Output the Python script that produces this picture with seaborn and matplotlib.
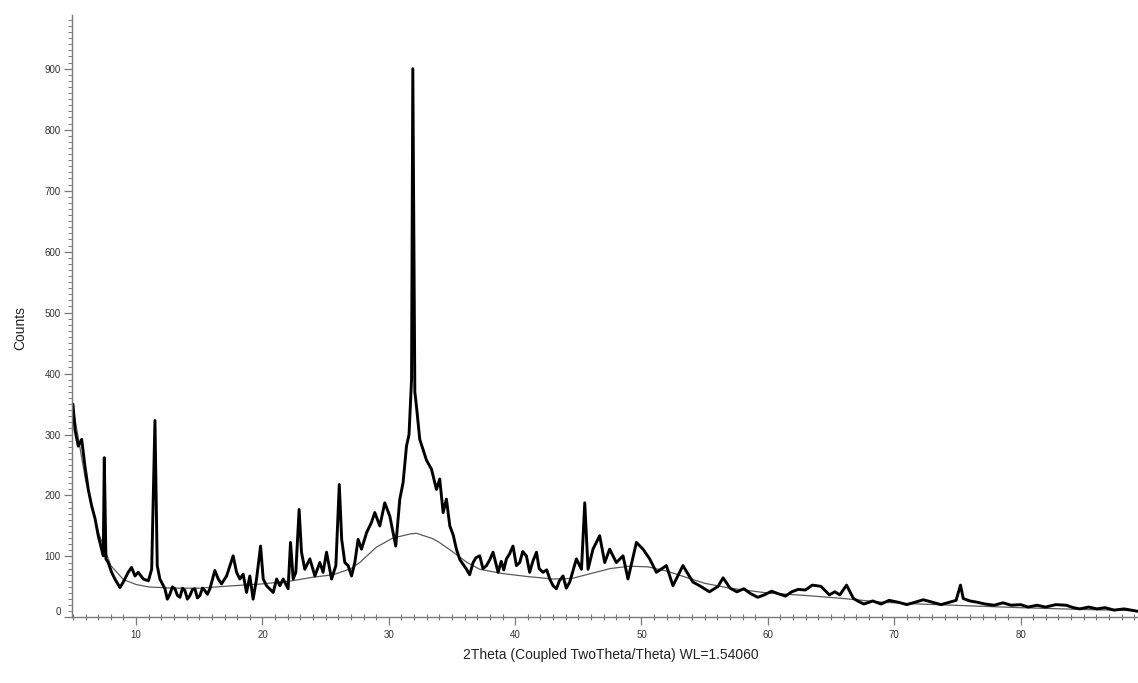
import numpy as np
import pandas as pd
import seaborn as sns
import matplotlib.pyplot as plt
from matplotlib.ticker import MultipleLocator

# XRD pattern (2theta in degrees, counts)
two_theta = [5.0, 5.16, 5.42, 5.69, 5.95, 6.21, 6.48, 6.75, 7.0, 7.27, 7.40, 7.48, 7.61,
             7.79, 8.06, 8.32, 8.72, 8.98, 9.37, 9.64, 9.91, 10.17, 10.57, 10.97, 11.23,
             11.49, 11.67, 11.88, 12.28, 12.47, 12.67, 12.87, 13.07, 13.27, 13.47, 13.67,
             13.86, 14.06, 14.26, 14.46, 14.65, 14.85, 15.05, 15.25, 15.44, 15.64, 15.84,
             16.23, 16.5, 16.76, 17.16, 17.68, 17.95, 18.21, 18.47, 18.74,
             19.0, 19.26, 19.53, 19.85, 20.06, 20.32, 20.85, 21.12, 21.38, 21.64, 22.03,
             22.22, 22.43, 22.64, 22.9, 23.09, 23.35, 23.75, 24.15, 24.54, 24.8, 25.07,
             25.47, 25.81, 26.08, 26.27, 26.52, 26.78, 27.05, 27.31, 27.57, 27.84, 28.24,
             28.63, 28.89, 29.29, 29.68, 30.08, 30.55, 30.87, 31.13, 31.4, 31.6, 31.8,
             31.9, 32.06, 32.19, 32.45, 32.98, 33.38, 33.77, 34.03, 34.3, 34.56, 34.83,
             35.1, 35.35, 35.62, 36.15, 36.4, 36.67, 36.9, 37.2, 37.45, 37.73, 38.0,
             38.25, 38.65, 38.9, 39.1, 39.31, 39.55, 39.83, 40.1, 40.36, 40.6, 40.89,
             41.15, 41.4, 41.69, 41.9, 42.21, 42.5, 42.74, 43.0, 43.27, 43.5, 43.79,
             44.05, 44.32, 44.85, 45.25,
             45.51, 45.77, 46.16, 46.69, 47.09, 47.48, 48.01, 48.54, 48.93, 49.6, 50.12,
             50.65, 51.18, 51.97, 52.49, 53.28, 54.07, 54.6, 55.38, 56.06, 56.46, 57.01,
             57.55, 58.1, 58.64, 59.2, 59.72, 60.3, 60.81, 61.4, 61.89, 62.4, 62.98, 63.52,
             64.2, 64.88, 65.3, 65.7, 66.23, 66.78, 67.2, 67.6, 68.3, 68.96, 69.6, 70.31,
             71.0, 71.67, 72.3, 73.02, 73.7, 74.38, 74.9, 75.25, 75.47, 76.0, 76.55, 77.2,
             77.91, 78.6, 79.26, 80.0, 80.62, 81.3, 81.98, 82.8, 83.61, 84.2, 84.69, 85.4,
             86.05, 86.7, 87.41, 88.2, 89.04, 89.3]
counts = [350, 308, 281, 292, 248, 210, 183, 162, 134, 112, 101, 262, 96,
          90, 74, 63, 49, 58, 74, 82, 68, 74, 63, 60, 79,
          323, 85, 63, 47, 30, 38, 50, 47, 36, 33, 48,
          44, 30, 36, 46, 47, 32, 36, 48, 44, 38, 47,
          77, 63, 55, 68, 101, 74, 63, 71, 41,
          68, 30, 63, 117, 63, 52, 41, 63, 52, 63, 47,
          123, 63, 74, 177, 107, 79, 96, 68, 90, 74, 107,
          63, 85, 218, 128, 90, 85, 68, 90, 128, 112, 139,
          156, 172, 150, 188, 166, 117, 194, 221, 281, 300, 390,
          900, 370, 346, 292, 258, 243, 210, 227, 172, 194, 150,
          135, 112, 95, 79, 70, 90, 98, 101, 80, 85, 95,
          107, 74, 92, 78, 96, 104, 117, 85, 90, 108, 101,
          74, 92, 107, 80, 74, 78, 63, 52, 47, 60, 68,
          48, 58, 96, 79,
          188, 79, 112, 134, 90, 112, 90, 101, 63, 123, 112,
          96, 74, 85, 52, 85, 58, 52, 42, 51, 65, 48,
          42, 47, 39, 33, 37, 43, 39, 35, 42, 46, 45, 53,
          51, 37, 42, 37, 53, 31, 26, 22, 27, 22, 28, 25,
          21, 25, 29, 25, 21, 25, 28, 53, 31, 27, 25, 22,
          20, 24, 20, 21, 17, 20, 17, 21, 20, 16, 14, 17,
          14, 16, 12, 14, 11, 10]

# fitted background curve
bg_two_theta = [5.0, 6.0, 7.0, 8.0, 9.0, 10.0, 11.0, 13.0, 15.0, 17.7, 20.0, 22.3, 24.0,
                25.6, 27.0, 27.7, 29.0, 30.3, 31.7, 32.2, 33.5, 34.0, 35.1, 36.2, 37.2,
                39.0, 41.0, 43.0, 44.5, 46.0, 47.5, 49.0, 50.5, 52.0, 53.5, 55.0, 57.0,
                60.0, 63.0, 66.0, 69.0, 72.0, 76.0, 80.0, 85.0, 89.3]
bg_counts = [345, 225, 140, 85, 62, 54, 50, 48, 48, 52, 55, 60, 66,
             70, 80, 90, 115, 130, 137, 138, 129, 123, 107, 90, 79,
             72, 67, 63, 64, 72, 80, 84, 83, 76, 66, 56, 48,
             40, 36, 31, 25, 22, 19, 16, 13, 11]

df = pd.DataFrame({"two_theta": two_theta, "counts": counts})
bg = pd.DataFrame({"two_theta": bg_two_theta, "counts": bg_counts})

sns.set_style("ticks")
plt.rcParams['font.family'] = ['Liberation Sans', 'DejaVu Sans']

fig = plt.figure(figsize=(11.38, 6.83), dpi=100)
ax = fig.add_axes([0.063, 0.096, 0.937, 0.882])

sns.lineplot(data=bg, x="two_theta", y="counts", color="#5a5a5a", lw=0.9,
             estimator=None, sort=False, ax=ax)
sns.lineplot(data=df, x="two_theta", y="counts", color="black", lw=2.1,
             estimator=None, sort=False, ax=ax)

ax.set_xlim(4.9, 89.3)
ax.set_ylim(0, 988)

ax.set_xticks(range(10, 90, 10))
ax.set_yticks(range(0, 1000, 100))
ax.xaxis.set_minor_locator(MultipleLocator(1))
ax.yaxis.set_minor_locator(MultipleLocator(10))

for s in ["top", "right"]:
    ax.spines[s].set_visible(False)
for s in ["left", "bottom"]:
    ax.spines[s].set_color("#7a7a7a")
    ax.spines[s].set_linewidth(1.0)

ax.tick_params(axis="both", which="major", labelsize=7, colors="#7a7a7a",
               labelcolor="#333333", length=6, width=0.9, pad=2)
ax.tick_params(axis="x", which="minor", direction="inout", length=4,
               width=0.8, colors="#7a7a7a")
ax.tick_params(axis="y", which="minor", direction="out", length=3,
               width=0.7, colors="#7a7a7a")
ax.tick_params(axis="x", which="major", pad=3)

# zero label sits a bit above the axis in the original
ylabels = ax.get_yticklabels()
ylabels[0].set_va("bottom")

ax.set_xlabel("2Theta (Coupled TwoTheta/Theta) WL=1.54060", fontsize=10, color="#222222")
ax.set_ylabel("Counts", fontsize=10, color="#222222")
ax.xaxis.set_label_coords(0.506, -0.05)
ax.yaxis.set_label_coords(-0.042, 0.48)

fig.savefig("out.png", dpi=100)
